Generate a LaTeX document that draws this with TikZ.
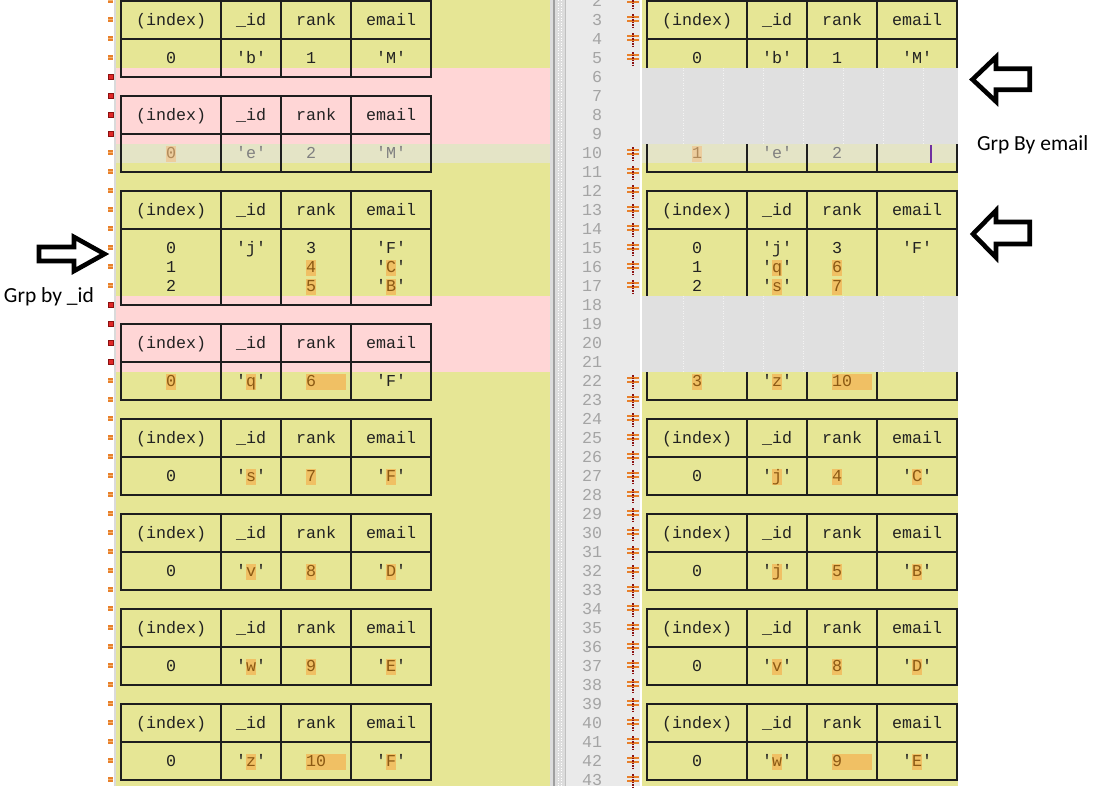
\documentclass[tikz,border=0pt]{standalone}
\usepackage{fontspec}
\newfontfamily\monof[Ligatures=TeXOff]{Liberation Mono}
\newfontfamily\notef{Carlito}
\definecolor{paneY}{HTML}{E6E695}
\definecolor{paneP}{HTML}{FFD6D6}
\definecolor{fillG}{HTML}{E0E0E0}
\definecolor{numG}{HTML}{EAEAEA}
\definecolor{sepG}{HTML}{DCDCDC}
\definecolor{gutterG}{HTML}{DADADA}
\definecolor{rowH}{HTML}{E4E4C6}
\definecolor{hiO}{HTML}{F0C064}
\definecolor{hiF}{HTML}{ECCD9E}
\definecolor{hiT}{HTML}{8C5A14}
\definecolor{hiTF}{HTML}{B08A5A}
\definecolor{gridc}{HTML}{1E1E1E}
\definecolor{txtc}{HTML}{222222}
\definecolor{grayt}{HTML}{808080}
\definecolor{lnumc}{HTML}{A4A4A4}
\definecolor{mkO}{HTML}{E8802A}
\definecolor{mkOl}{HTML}{F4B070}
\definecolor{mkR}{HTML}{E02828}
\definecolor{mkD}{HTML}{8B1010}
\definecolor{cursorc}{HTML}{7030A0}
\tikzset{
  cell/.style={anchor=base west, inner sep=0pt, outer sep=0pt, font=\monof\fontsize{16.667}{19}\selectfont, text=txtc},
  lnum/.style={anchor=base east, inner sep=0pt, outer sep=0pt, font=\monof\fontsize{16.667}{19}\selectfont, text=lnumc},
  note/.style={anchor=base west, inner sep=0pt, outer sep=0pt, font=\notef\fontsize{21.5}{24}\selectfont, text=black},
  frame/.style={draw=gridc, line width=1.3pt, line cap=rect},
  dotline/.style={draw=white!60!fillG, line width=0.8pt, dash pattern=on 1pt off 1.5pt},
  blockarrow/.style={draw=black, line width=4.6pt, fill=white, line join=miter, miter limit=10},
}
\newcounter{nid}
\newcommand\tx[4][]{\stepcounter{nid}\node[cell,#1] (t\thenid) at (#2,#3) {#4};}
\newcommand\hc[1]{\textcolor{hiT}{#1}}
\newcommand\hcf[1]{\textcolor{hiTF}{#1}}
\newcommand\hdr[2]{%
  \tx{#1+15}{19*#2-32}{(index)}%
  \tx{#1+115}{19*#2-32}{\_id}%
  \tx{#1+175}{19*#2-32}{rank}%
  \tx{#1+245}{19*#2-32}{email}}
\newcommand\drow[7][]{%
  \tx[#1]{#2+45}{19*#3-32}{#4}%
  \tx[#1]{#2+115}{19*#3-32}{#5}%
  \tx[#1]{#2+185}{19*#3-32}{#6}%
  \tx[#1]{#2+255}{19*#3-32}{#7}}
\newcommand\tframe[4]{%
  \draw[frame] (#1,19*#2-37) -- ++(310,0);
  \draw[frame] (#1,19*#3-37) -- ++(310,0);
  \draw[frame] (#1,19*#4-37) -- ++(310,0);
  \foreach \dd in {0,100,160,230,310} {\draw[frame] (#1+\dd,19*#2-37) -- (#1+\dd,19*#4-37);}}
\newcommand\hl[5][hiO]{\fill[#1] (#2+10*#4-5,19*#3-44.5) rectangle (#2+10*#4+10*#5-5,19*#3-28.5);}
\newcommand\omark[1]{%
  \fill[mkO] (108,19*#1-40) rectangle (113,19*#1-35);
  \fill[mkOl] (108,19*#1-38) rectangle (113,19*#1-37);
  \fill[mkO] (627,19*#1-41) rectangle (639,19*#1-38.8);
  \fill[mkO] (627,19*#1-36.8) rectangle (639,19*#1-34.6);
  \draw[mkD, line width=1.2pt, dash pattern=on 1.5pt off 1pt] (633,19*#1-43) -- (633,19*#1-29);}
\newcommand\rmark[1]{%
  \filldraw[fill=mkR, draw=mkD, line width=0.6pt] (108.3,19*#1-39.7) rectangle (113.7,19*#1-34.7);}
\begin{document}
\begin{tikzpicture}[x=1pt,y=-1pt]
\useasboundingbox (0,0) rectangle (1100,806);
\fill[white] (0,0) rectangle (1100,806);
% ---------- left pane ----------
\fill[gutterG] (113.5,0) rectangle (116.3,786);
\fill[paneY] (116.3,0) rectangle (550,786);
\fill[paneP] (116.3,67.5) rectangle (550,143.5);
\fill[paneP] (116.3,295.5) rectangle (550,371.5);
\fill[rowH] (116.3,143.5) rectangle (550,162.5);
% ---------- separator ----------
\fill[sepG] (550,0) rectangle (566,786);
\draw[black!38, line width=1.6pt] (554,0) -- (554,786);
\draw[white, line width=1pt, dash pattern=on 1pt off 1.5pt] (558.5,0) -- (558.5,786);
\draw[white, line width=1pt, dash pattern=on 1pt off 1.5pt] (561.5,0) -- (561.5,786);
\draw[black!25, line width=0.8pt] (565,0) -- (565,786);
% ---------- line numbers column and right pane ----------
\fill[numG] (566,0) rectangle (640,786);
\fill[paneY] (642,0) rectangle (958,786);
\fill[rowH] (642,143.5) rectangle (958,162.5);
% ---------- word highlights ----------
\hl[hiF]{121}{10}{5}{1}
\hl{121}{16}{19}{1} \hl{121}{16}{27}{1}
\hl{121}{17}{19}{1} \hl{121}{17}{27}{1}
\hl{121}{22}{5}{1} \hl{121}{22}{13}{1} \hl{121}{22}{19}{4}
\foreach \n in {27,32,37} {\hl{121}{\n}{13}{1} \hl{121}{\n}{19}{1} \hl{121}{\n}{27}{1}}
\hl{121}{42}{13}{1} \hl{121}{42}{19}{4} \hl{121}{42}{27}{1}
\hl[hiF]{647}{10}{5}{1}
\hl{647}{16}{13}{1} \hl{647}{16}{19}{1}
\hl{647}{17}{13}{1} \hl{647}{17}{19}{1}
\hl{647}{22}{5}{1} \hl{647}{22}{13}{1} \hl{647}{22}{19}{4}
\foreach \n in {27,32,37} {\hl{647}{\n}{13}{1} \hl{647}{\n}{19}{1} \hl{647}{\n}{27}{1}}
\hl{647}{42}{13}{1} \hl{647}{42}{19}{4} \hl{647}{42}{27}{1}
% ---------- table frames ----------
\tframe{121}{2}{4}{6}
\tframe{121}{7}{9}{11}
\tframe{121}{12}{14}{18}
\tframe{121}{19}{21}{23}
\tframe{121}{24}{26}{28}
\tframe{121}{29}{31}{33}
\tframe{121}{34}{36}{38}
\tframe{121}{39}{41}{43}
\tframe{647}{2}{4}{11}
\tframe{647}{12}{14}{23}
\tframe{647}{24}{26}{28}
\tframe{647}{29}{31}{33}
\tframe{647}{34}{36}{38}
\tframe{647}{39}{41}{43}
% ---------- gray filler on the right ----------
\fill[fillG] (642,67.5) rectangle (958,143.5);
\fill[fillG] (642,295.5) rectangle (958,371.5);
\foreach \k in {0,...,6} {
  \draw[dotline] (683+40*\k,67.5) -- (683+40*\k,143.5);
  \draw[dotline] (683+40*\k,295.5) -- (683+40*\k,371.5);
}
% ---------- left texts ----------
\foreach \n in {3,8,13,20,25,30,35,40} {\hdr{121}{\n}}
\drow{121}{5}{0}{'b'}{1}{'M'}
\drow[text=grayt]{121}{10}{\hcf{0}}{'e'}{2}{'M'}
\drow{121}{15}{0}{'j'}{3}{'F'}
\drow{121}{16}{1}{}{\hc{4}}{'\hc{C}'}
\drow{121}{17}{2}{}{\hc{5}}{'\hc{B}'}
\drow{121}{22}{\hc{0}}{'\hc{q}'}{\hc{6}}{'F'}
\drow{121}{27}{0}{'\hc{s}'}{\hc{7}}{'\hc{F}'}
\drow{121}{32}{0}{'\hc{v}'}{\hc{8}}{'\hc{D}'}
\drow{121}{37}{0}{'\hc{w}'}{\hc{9}}{'\hc{E}'}
\drow{121}{42}{0}{'\hc{z}'}{\hc{10}}{'\hc{F}'}
% ---------- right texts ----------
\foreach \n in {3,13,25,30,35,40} {\hdr{647}{\n}}
\drow{647}{5}{0}{'b'}{1}{'M'}
\drow[text=grayt]{647}{10}{\hcf{1}}{'e'}{2}{}
\drow{647}{15}{0}{'j'}{3}{'F'}
\drow{647}{16}{1}{'\hc{q}'}{\hc{6}}{}
\drow{647}{17}{2}{'\hc{s}'}{\hc{7}}{}
\drow{647}{22}{\hc{3}}{'\hc{z}'}{\hc{10}}{}
\drow{647}{27}{0}{'\hc{j}'}{\hc{4}}{'\hc{C}'}
\drow{647}{32}{0}{'\hc{j}'}{\hc{5}}{'\hc{B}'}
\drow{647}{37}{0}{'\hc{v}'}{\hc{8}}{'\hc{D}'}
\drow{647}{42}{0}{'\hc{w}'}{\hc{9}}{'\hc{E}'}
\draw[cursorc, line width=1.3pt] (931,145) -- (931,162.5);
% ---------- line numbers ----------
\foreach \n in {2,...,43} {\node[lnum] (ln\n) at (602,19*\n-32) {\n};}
% ---------- markers ----------
\foreach \n in {2,...,5} {\omark{\n}}
\foreach \n in {10,...,17} {\omark{\n}}
\foreach \n in {22,...,43} {\omark{\n}}
\foreach \n in {6,...,9} {\rmark{\n}}
\foreach \n in {18,...,21} {\rmark{\n}}
% ---------- annotations ----------
\draw[blockarrow] (39,247) -- (74,247) -- (74,237) -- (104.5,254) -- (74,271) -- (74,261) -- (39,261) -- cycle;
\draw[blockarrow] (1029.7,68.7) -- (996,68.7) -- (996,57) -- (972.5,79.5) -- (996,101.5) -- (996,89.7) -- (1029.7,89.7) -- cycle;
\draw[blockarrow] (1029.7,222) -- (996,222) -- (996,210.5) -- (973,234) -- (996,257.5) -- (996,244) -- (1029.7,244) -- cycle;
\node[note] (grpid) at (4,302) {Grp by \_id};
\node[note] (grpemail) at (977,150) {Grp By email};
\end{tikzpicture}
\end{document}
